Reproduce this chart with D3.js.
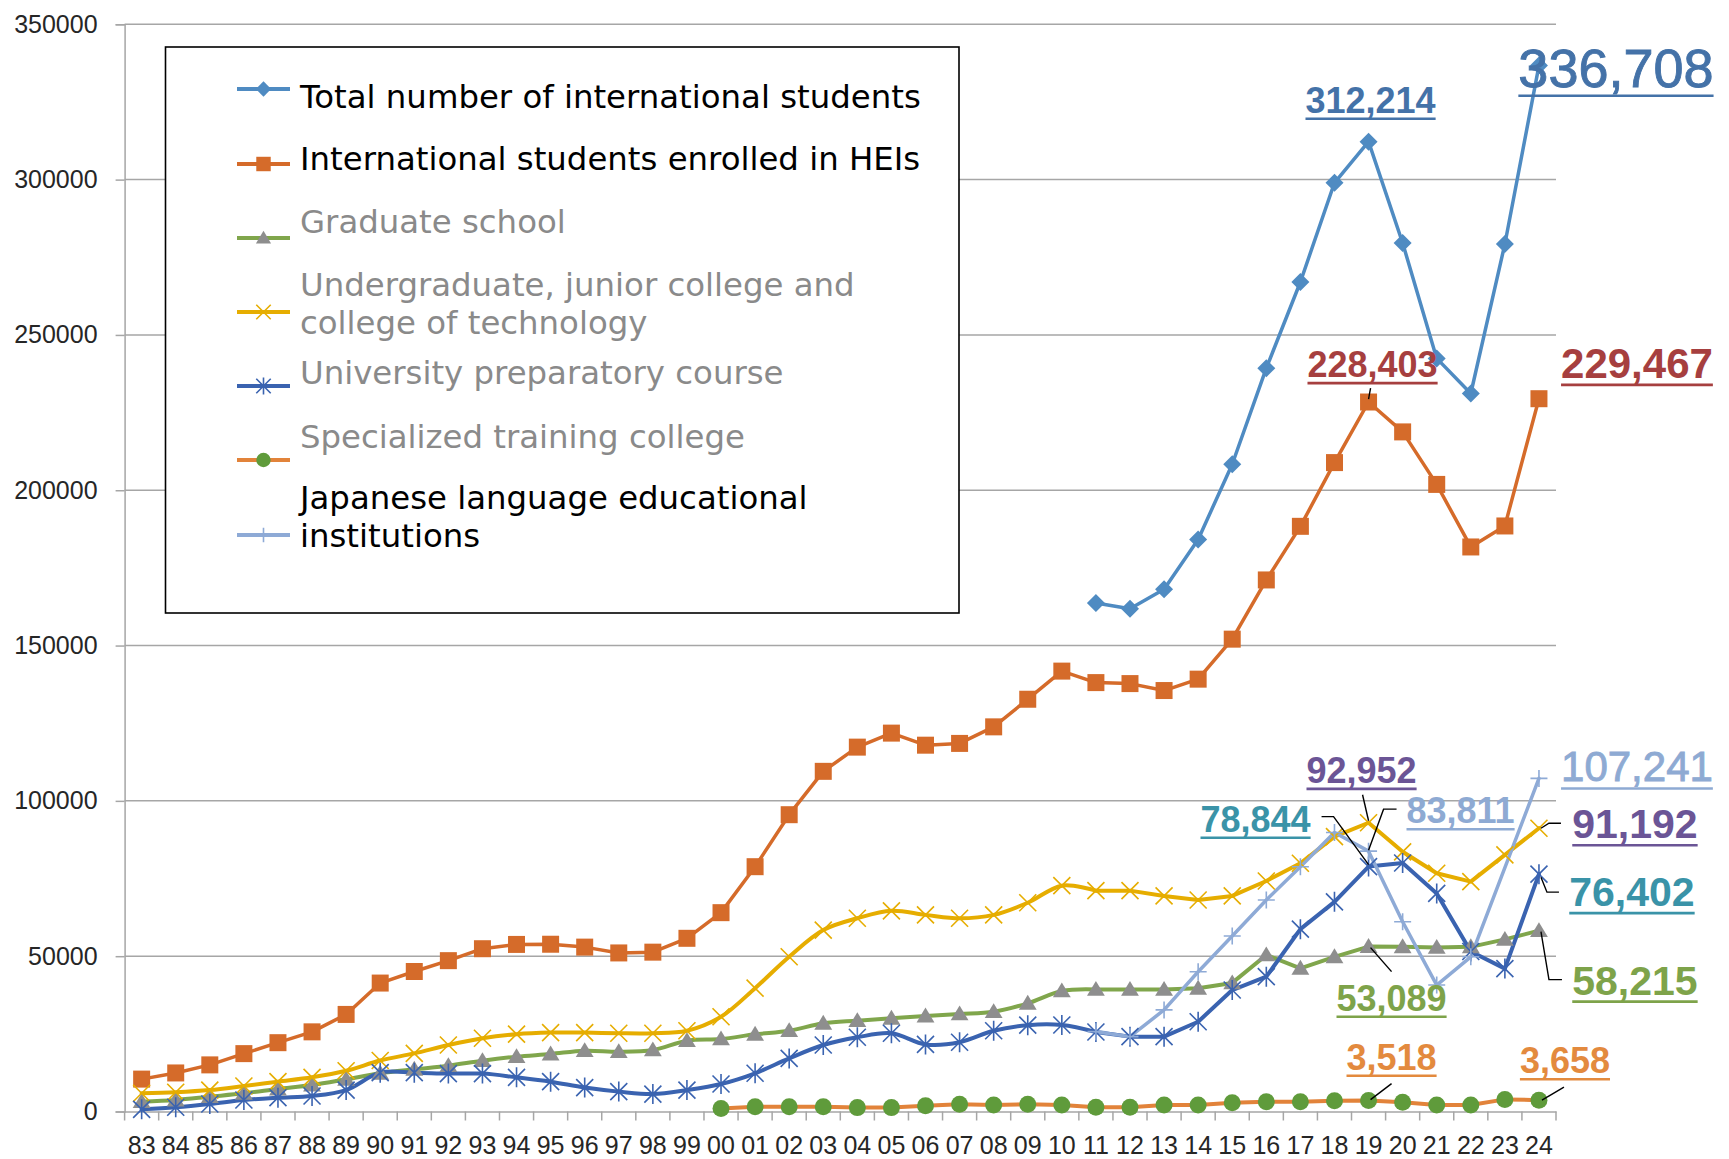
<!DOCTYPE html>
<html>
<head>
<meta charset="utf-8">
<script src="https://cdn.jsdelivr.net/npm/d3@7"></script>
<style>
html, body { margin: 0; padding: 0; background: #fff; }
svg { display: block; }
</style>
</head>
<body>
<div id="chart"></div>
<script>

// ---- data ----
var yearLabels = ["83","84","85","86","87","88","89","90","91","92","93","94","95","96","97","98","99",
    "00","01","02","03","04","05","06","07","08","09","10","11","12","13","14","15","16","17","18","19",
    "20","21","22","23","24"];

var yTicks = [0, 50000, 100000, 150000, 200000, 250000, 300000, 350000];

var seriesNames = [
    ["Total number of international students"],
    ["International students enrolled in HEIs"],
    ["Graduate school"],
    ["Undergraduate, junior college and", "college of technology"],
    ["University preparatory course"],
    ["Specialized training college"],
    ["Japanese language educational", "institutions"]
];

var totalStudents = [null,null,null,null,null,null,null,null,null,null,null,null,null,null,null,null,null,
    null,null,null,null,null,null,null,null,null,null,null,
    163697,161848,168145,184155,208379,239287,267042,298980,312214,279597,242444,231146,279274,336708];

var heiStudents = [10428,12410,15009,18631,22154,25643,31251,41347,45066,48561,52405,53787,53847,52921,51047,51298,55755,
    64011,78812,95550,109508,117302,121812,117927,118498,123829,132720,
    141774,138075,137756,135519,139185,152062,171122,188384,208901,228403,218783,201877,181741,188500,229467];

var gradSchool = [3160,3700,4770,5850,7240,8530,10360,12300,13580,14750,16360,17650,18510,19580,19250,19800,22800,
    23340,24850,26000,28400,29230,30000,30740,31390,32130,34830,
    38800,39300,39300,39300,39650,41400,50400,46100,49800,53089,53000,52800,53000,55400,58215];

var undergrad = [5860,6200,6900,8200,9600,11000,13100,16400,18700,21400,23600,24900,25400,25400,25200,25200,26000,
    30500,39700,49800,58400,62200,64600,63300,62200,63300,67200,
    72700,71100,71100,69400,68100,69400,74200,79900,88500,92952,83600,76700,74000,82600,91192];

var prepCourse = [700,1350,2400,3700,4450,5000,6900,12500,12500,12200,12200,11000,9600,7700,6400,5600,6900,
    8850,12300,17100,21400,23900,25200,21600,22300,26000,27800,
    27850,25600,24100,24100,28900,39100,43400,58700,67500,78844,80000,70200,51500,46000,76402];

var specialized = [null,null,null,null,null,null,null,null,null,null,null,null,null,null,null,null,null,
    1000,1550,1550,1550,1250,1250,1850,2300,2100,2300,
    2100,1350,1350,2100,2100,2800,3150,3150,3450,3518,2950,2100,2100,3900,3658];

var japaneseLang = [null,null,null,null,null,null,null,null,null,null,null,null,null,null,null,null,null,
    null,null,null,null,null,null,null,null,null,null,null,
    25700,24100,32700,45000,56500,68100,78800,89800,83811,61100,40700,49800,null,107241];

// ---- layout ----
var W = 1729, H = 1159;
var plotLeft = 124.6, plotRight = 1556, plotTop = 24.3, plotBottom = 1111.5;
var axisFont = "'Liberation Sans', Arial, sans-serif";
var legendFamily = "'DejaVu Sans', 'Noto Sans', sans-serif";
var labelFamily = "'Liberation Sans', Arial, sans-serif";
var gridColor = "#a6a6a6";

var svg = d3.select("#chart").append("svg")
    .attr("width", W)
    .attr("height", H);

var x = d3.scaleBand()
    .domain(yearLabels)
    .range([plotLeft, plotRight]);

var y = d3.scaleLinear()
    .domain([0, 350000])
    .range([plotBottom, plotTop]);

function px(i) { return x(yearLabels[i]) + x.bandwidth() / 2; }

// marker shapes
function diamond(s) { return "M0," + (-s) + "L" + s + ",0L0," + s + "L" + (-s) + ",0Z"; }
function square(s) { return "M" + (-s) + "," + (-s) + "h" + (2 * s) + "v" + (2 * s) + "h" + (-2 * s) + "Z"; }
function triangle(s) { return "M0," + (-s) + "L" + (s * 1.05) + "," + (s * 0.75) + "L" + (-s * 1.05) + "," + (s * 0.75) + "Z"; }
function cross(s) { return "M" + (-s) + "," + (-s) + "L" + s + "," + s + "M" + (-s) + "," + s + "L" + s + "," + (-s); }
function star(s) { return cross(s * 0.85) + "M0," + (-s) + "L0," + s; }
function plus(s) { return "M" + (-s) + ",0L" + s + ",0M0," + (-s) + "L0," + s; }

var series = [
    {key: "total", values: totalStudents, line: "#4f8bc2", width: 3.5, smooth: false,
        marker: diamond, mSize: 9, mFill: "#4f8bc2", mStroke: "none"},
    {key: "hei", values: heiStudents, line: "#d56b2a", width: 3.5, smooth: false,
        marker: square, mSize: 8.5, mFill: "#d56b2a", mStroke: "none"},
    {key: "grad", values: gradSchool, line: "#80a64c", width: 4, smooth: true,
        marker: triangle, mSize: 8.5, mFill: "#8e8e8e", mStroke: "none"},
    {key: "under", values: undergrad, line: "#e6ad00", width: 4, smooth: true,
        marker: cross, mSize: 8.5, mFill: "none", mStroke: "#e6ad00"},
    {key: "prep", values: prepCourse, line: "#3a63b0", width: 4, smooth: true,
        marker: star, mSize: 10, mFill: "none", mStroke: "#3a63b0"},
    {key: "spec", values: specialized, line: "#e2833a", width: 4, smooth: false,
        marker: null, mSize: 8.5, mFill: "#5f9b3b", mStroke: "none"},
    {key: "jli", values: japaneseLang, line: "#8eaad6", width: 3.5, smooth: false,
        marker: plus, mSize: 8.5, mFill: "none", mStroke: "#8eaad6"}
];

// ---- grid and axes ----
svg.append("g").selectAll("line")
    .data(yTicks.filter(function(d) { return d > 0; }))
    .enter().append("line")
    .attr("x1", plotLeft).attr("x2", plotRight)
    .attr("y1", function(d) { return y(d); })
    .attr("y2", function(d) { return y(d); })
    .attr("stroke", gridColor)
    .attr("stroke-width", 1.5);

var yAxis = svg.append("g")
    .attr("transform", "translate(" + plotLeft + ",0)")
    .call(d3.axisLeft(y).tickValues(yTicks).tickFormat(d3.format("d")).tickSize(9).tickPadding(18));
yAxis.select(".domain").attr("stroke", gridColor).attr("stroke-width", 1.5);
yAxis.selectAll(".tick line").attr("stroke", gridColor).attr("stroke-width", 1.5);
yAxis.selectAll("text")
    .style("font-family", axisFont)
    .style("font-size", "25px")
    .attr("fill", "#262626");

var xAxis = svg.append("g")
    .attr("transform", "translate(0," + plotBottom + ")")
    .call(d3.axisBottom(x).tickSize(0).tickPadding(25));
xAxis.select(".domain").attr("stroke", gridColor).attr("stroke-width", 1.5);
xAxis.selectAll("text")
    .style("font-family", axisFont)
    .style("font-size", "25px")
    .attr("fill", "#262626");

// category boundary ticks
svg.append("g").selectAll("line")
    .data(d3.range(yearLabels.length + 1))
    .enter().append("line")
    .attr("x1", function(i) { return plotLeft + i * x.bandwidth(); })
    .attr("x2", function(i) { return plotLeft + i * x.bandwidth(); })
    .attr("y1", plotBottom)
    .attr("y2", plotBottom + 9)
    .attr("stroke", gridColor)
    .attr("stroke-width", 1.5);

// ---- series ----
var smoothSplit = 28; // Excel smoothing on the older part of the series

var lineLinear = d3.line()
    .x(function(d) { return px(d.i); })
    .y(function(d) { return y(d.v); });
var lineSmooth = d3.line()
    .curve(d3.curveCatmullRom.alpha(0.5))
    .x(function(d) { return px(d.i); })
    .y(function(d) { return y(d.v); });

function drawMarker(g, s, cx, cy) {
    if (s.marker === null) {
        g.append("circle").attr("cx", cx).attr("cy", cy).attr("r", s.mSize).attr("fill", s.mFill);
    } else {
        g.append("path")
            .attr("d", s.marker(s.mSize))
            .attr("transform", "translate(" + cx + "," + cy + ")")
            .attr("fill", s.mFill)
            .attr("stroke", s.mStroke)
            .attr("stroke-width", s.mStroke === "none" ? 0 : 1.6);
    }
}

var plotG = svg.append("g");
series.forEach(function(s) {
    var pts = [];
    s.values.forEach(function(v, i) { if (v !== null) pts.push({i: i, v: v}); });
    var parts = s.smooth
        ? [[lineSmooth, pts.filter(function(d) { return d.i <= smoothSplit; })],
           [lineLinear, pts.filter(function(d) { return d.i >= smoothSplit; })]]
        : [[lineLinear, pts]];
    parts.forEach(function(p) {
        plotG.append("path")
            .attr("d", p[0](p[1]))
            .attr("fill", "none").attr("stroke", s.line).attr("stroke-width", s.width)
            .attr("stroke-linejoin", "round").attr("stroke-linecap", "round");
    });
    s.pts = pts;
});
series.forEach(function(s) {
    var mg = plotG.append("g");
    s.pts.forEach(function(d) { drawMarker(mg, s, px(d.i), y(d.v)); });
});

// ---- data labels with leader lines ----
var labelSpecs = [
    {key: "total", year: "19", dx: 2, dy: -29, size: 36, bold: true, color: "#4472a8"},
    {key: "total", year: "24", dx: 77, dy: 21, size: 54, bold: false, color: "#4472a8"},
    {key: "hei", year: "19", dx: 4, dy: -25, size: 36, bold: true, color: "#a63f3f", leader: [[2, -14], [0, -3]]},
    {key: "hei", year: "24", dx: 98, dy: -21, size: 42, bold: true, color: "#a63f3f"},
    {key: "under", year: "19", dx: -7, dy: -40, size: 36, bold: true, color: "#6b5596", leader: [[-6, -28], [0, -2]]},
    {key: "prep", year: "19", dx: -113, dy: -35, size: 36, bold: true, color: "#3a93a8", leader: [[-47, -50], [-35, -50], [0, -2]]},
    {key: "jli", year: "19", dx: 92, dy: -28, size: 36, bold: true, color: "#8eaad3", leader: [[28, -42], [15, -42], [0, -1]]},
    {key: "jli", year: "24", dx: 98, dy: 3, size: 42, bold: false, color: "#8eaad3"},
    {key: "under", year: "24", dx: 96, dy: 10, size: 41, bold: true, color: "#6b5596", leader: [[2, 0], [10, -5], [22, -5]]},
    {key: "prep", year: "24", dx: 93, dy: 32, size: 41, bold: true, color: "#3a93a8", leader: [[2, 3], [8, 18], [20, 18]]},
    {key: "grad", year: "24", dx: 96, dy: 64, size: 41, bold: true, color: "#7ea34a", leader: [[2, 1], [10, 49], [23, 49]]},
    {key: "grad", year: "19", dx: 23, dy: 64, size: 36, bold: true, color: "#7ea34a", leader: [[2, 1], [23, 25]]},
    {key: "spec", year: "19", dx: 23, dy: -31, size: 36, bold: true, color: "#e38a3e", leader: [[23, -17], [2, -1]]},
    {key: "spec", year: "24", dx: 26, dy: -27, size: 36, bold: true, color: "#e38a3e", leader: [[25, -13], [3, 0]]}
];

var fmt = d3.format(",");
var labelG = svg.append("g");
labelSpecs.forEach(function(l) {
    var s = series.filter(function(d) { return d.key === l.key; })[0];
    var i = yearLabels.indexOf(l.year);
    var cx = px(i), cy = y(s.values[i]);
    if (l.leader) {
        labelG.append("path")
            .attr("d", d3.line()(l.leader.map(function(p) { return [cx + p[0], cy + p[1]]; })))
            .attr("fill", "none")
            .attr("stroke", "#000")
            .attr("stroke-width", 1.4);
    }
    var t = labelG.append("text")
        .attr("x", cx + l.dx)
        .attr("y", cy + l.dy)
        .attr("text-anchor", "middle")
        .style("font-family", labelFamily)
        .style("font-size", l.size + "px")
        .style("font-weight", l.bold ? "bold" : "normal")
        .attr("fill", l.color)
        .attr("stroke", l.bold ? "none" : l.color)
        .attr("stroke-width", l.bold ? 0 : 0.9)
        .text(fmt(s.values[i]));
    var bb = t.node().getBBox();
    labelG.append("line")
        .attr("x1", bb.x).attr("x2", bb.x + bb.width)
        .attr("y1", cy + l.dy + l.size * 0.17)
        .attr("y2", cy + l.dy + l.size * 0.17)
        .attr("stroke", l.color)
        .attr("stroke-width", 2.6);
});

// ---- legend ----
var legendG = svg.append("g");
legendG.append("rect")
    .attr("x", 165.5).attr("y", 47)
    .attr("width", 793.5).attr("height", 566)
    .attr("fill", "#fff")
    .attr("stroke", "#000")
    .attr("stroke-width", 1.6);

var legendSize = 28;
var probe = legendG.append("text")
    .style("font-family", legendFamily).style("font-size", legendSize + "px")
    .text(seriesNames[0][0]);
legendSize = legendSize * 621 / probe.node().getComputedTextLength();
probe.remove();

var legendMarkerY = [89, 164, 238, 312, 386, 460, 535];
var legendTextY = [108, 170, 233, 296, 384, 448, 509];
var legendLineGap = 37.5;
var legendTextColor = ["#000", "#000", "#8a8a8a", "#8a8a8a", "#8a8a8a", "#8a8a8a", "#000"];

series.forEach(function(s, k) {
    var my = legendMarkerY[k];
    legendG.append("line")
        .attr("x1", 237).attr("x2", 290)
        .attr("y1", my).attr("y2", my)
        .attr("stroke", s.line)
        .attr("stroke-width", 4);
    var ls = Object.assign({}, s, {mSize: s.mSize * 0.85});
    drawMarker(legendG, ls, 263.5, my);
    var t = legendG.append("text")
        .attr("y", legendTextY[k])
        .style("font-family", legendFamily)
        .style("font-size", legendSize + "px")
        .attr("fill", legendTextColor[k]);
    seriesNames[k].forEach(function(name, j) {
        t.append("tspan")
            .attr("x", 300)
            .attr("dy", j === 0 ? 0 : legendLineGap)
            .text(name);
    });
});

</script>
</body>
</html>
